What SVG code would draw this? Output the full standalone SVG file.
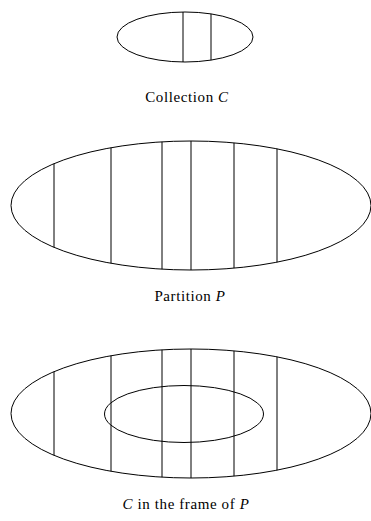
<svg xmlns="http://www.w3.org/2000/svg" width="371" height="521" viewBox="0 0 371 521">
<style>
.s{fill:none;stroke:#000;stroke-width:1}
.t{font-family:"Liberation Serif","DejaVu Serif",serif;font-size:15px;letter-spacing:0.6px;fill:#000;text-anchor:middle}
.i{font-style:italic}
</style>
<rect width="371" height="521" fill="#fff"/>
<g id="collection">
<ellipse class="s" cx="185" cy="37" rx="68" ry="25"/>
<line class="s" x1="183" y1="12" x2="183" y2="62"/>
<line class="s" x1="211" y1="13.9" x2="211" y2="60.1"/>
<text class="t" x="187" y="102">Collection <tspan class="i">C</tspan></text>
</g>
<g id="partition">
<ellipse class="s" cx="191" cy="205.5" rx="180" ry="64.5"/>
<line class="s" x1="54" y1="163.7" x2="54" y2="247.3"/>
<line class="s" x1="111" y1="147.7" x2="111" y2="263.3"/>
<line class="s" x1="162" y1="141.8" x2="162" y2="269.2"/>
<line class="s" x1="191" y1="141" x2="191" y2="270"/>
<line class="s" x1="234" y1="142.9" x2="234" y2="268.1"/>
<line class="s" x1="277" y1="148.8" x2="277" y2="262.2"/>
<text class="t" x="190" y="301">Partition <tspan class="i">P</tspan></text>
</g>
<g id="frame">
<ellipse class="s" cx="191" cy="413.5" rx="180" ry="64.5"/>
<line class="s" x1="54" y1="371.7" x2="54" y2="455.3"/>
<line class="s" x1="111" y1="355.7" x2="111" y2="471.3"/>
<line class="s" x1="162" y1="349.8" x2="162" y2="477.2"/>
<line class="s" x1="191" y1="349" x2="191" y2="478"/>
<line class="s" x1="234" y1="350.9" x2="234" y2="476.1"/>
<line class="s" x1="277" y1="356.8" x2="277" y2="470.2"/>
<ellipse class="s" cx="184" cy="414" rx="79.5" ry="28.5"/>
<text class="t" x="186" y="509"><tspan class="i">C</tspan> in the frame of <tspan class="i">P</tspan></text>
</g>
<g id="connectors"/>
</svg>
